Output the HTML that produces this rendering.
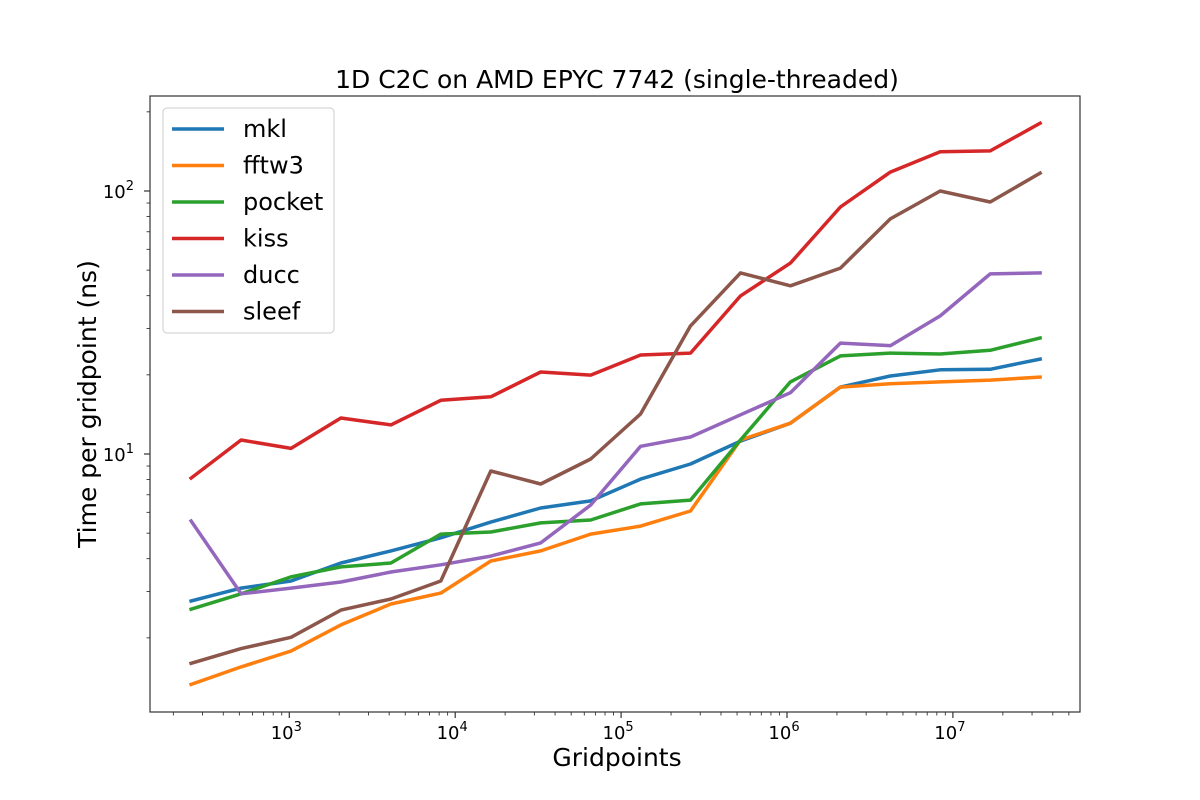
<!DOCTYPE html>
<html><head><meta charset="utf-8">
<style>
html,body{margin:0;padding:0;background:#fff;}
svg{display:block;font-family:"DejaVu Sans","Liberation Sans",sans-serif;}
</style></head>
<body>
<svg id="chart" width="1200" height="800" viewBox="0 0 1200 800" xmlns="http://www.w3.org/2000/svg">
<rect x="0" y="0" width="1200" height="800" fill="#fff"/>
<text x="617" y="88" font-size="25" text-anchor="middle">1D C2C on AMD EPYC 7742 (single-threaded)</text>
<text x="617" y="766" font-size="25" text-anchor="middle">Gridpoints</text>
<text x="0" y="0" font-size="25" text-anchor="middle" transform="translate(96,404) rotate(-90)">Time per gridpoint (ns)</text>
<g id="plot"></g>
<rect x="150" y="96" width="930" height="616" fill="none" stroke="#333" stroke-width="1.2"/>
<g id="legend"></g>
</svg>
<script>
const seriesNames = ["mkl","fftw3","pocket","kiss","ducc","sleef"];
const seriesColors = ["#1f77b4","#ff7f0e","#2ca02c","#d62728","#9467bd","#8c564b"];
const exponents = [8,9,10,11,12,13,14,15,16,17,18,19,20,21,22,23,24,25];
const mkl = [2.76,3.09,3.29,3.85,4.28,4.80,5.51,6.23,6.63,8.03,9.16,11.2,13.1,17.97,19.8,20.9,21.0,22.96];
const fftw3 = [1.33,1.55,1.78,2.24,2.69,2.96,3.92,4.28,4.96,5.32,6.07,11.3,13.1,17.97,18.5,18.8,19.1,19.6];
const pocket = [2.57,2.94,3.41,3.72,3.85,4.96,5.05,5.47,5.61,6.46,6.68,11.3,18.8,23.6,24.2,24.0,24.8,27.6];
const kiss = [8.1,11.3,10.5,13.7,12.9,16.0,16.5,20.5,19.96,23.8,24.2,39.9,53.2,86.9,118,141,142,181];
const ducc = [5.56,2.94,3.09,3.26,3.56,3.79,4.09,4.59,6.40,10.7,11.6,14.1,17.1,26.4,25.8,33.5,48.4,48.8];
const sleef = [1.60,1.82,2.01,2.55,2.81,3.29,8.62,7.69,9.57,14.2,30.7,48.8,43.6,50.9,78.3,100,90.8,117];
const xMajorExps = [3,4,5,6,7];
const yMajorExps = [1,2];

const NS="http://www.w3.org/2000/svg";
const plot=document.getElementById('plot');
const legend=document.getElementById('legend');
function X(v){return 289.3+(Math.log10(v)-3)*165.9;}
function Y(v){return 454-(Math.log10(v)-1)*263;}
function mk(tag,attrs,parent){const e=document.createElementNS(NS,tag);for(const k in attrs)e.setAttribute(k,attrs[k]);parent.appendChild(e);return e;}

for(let d=2;d<=7;d++){
  for(let m=1;m<10;m++){
    const v=m*Math.pow(10,d);const x=X(v);
    if(x<150||x>1080)continue;
    const t=mk('line',{x1:x,x2:x,y1:712,y2:712+(m===1?6:3.5),stroke:'#333','stroke-width':m===1?1.2:0.9},plot);
    
    
  }
}
xMajorExps.forEach(e=>{
  const t=mk('text',{x:X(Math.pow(10,e))-3,y:739,'font-size':18,'text-anchor':'middle'},plot);
  
  
  t.innerHTML='10<tspan dy="-8" font-size="13">'+e+'</tspan>';
});
for(let d=0;d<=2;d++){
  for(let m=1;m<10;m++){
    const v=m*Math.pow(10,d);const y=Y(v);
    if(y<96||y>712)continue;
    const t=mk('line',{x1:150,x2:150-(m===1?6:3.5),y1:y,y2:y,stroke:'#333','stroke-width':m===1?1.2:0.9},plot);
    
    
  }
}
yMajorExps.forEach(e=>{
  const t=mk('text',{x:134,y:Y(Math.pow(10,e))+7,'font-size':18,'text-anchor':'end'},plot);
  
  
  t.innerHTML='10<tspan dy="-8" font-size="13">'+e+'</tspan>';
});
const allData=[mkl,fftw3,pocket,kiss,ducc,sleef];
allData.forEach((arr,i)=>{
  const pts=arr.map((v,j)=>X(Math.pow(2,exponents[j])).toFixed(1)+','+Y(v).toFixed(1)).join(' ');
  const p=mk('polyline',{points:pts,fill:'none',stroke:seriesColors[i],'stroke-width':3.5,'stroke-linejoin':'round','stroke-linecap':'square'},plot);
  
  
});
const lb=mk('rect',{x:163,y:108,width:171,height:225,rx:4,fill:'#fff','fill-opacity':0.8,stroke:'#ccc','stroke-width':1},legend);


seriesNames.forEach((n,i)=>{
  const y=129+i*36.5;
  const g=mk('g',{},legend);
  
  
  mk('line',{x1:172,x2:224,y1:y,y2:y,stroke:seriesColors[i],'stroke-width':3.5},g);
  const t=mk('text',{x:243,y:y+8,'font-size':24},g);
  t.textContent=n;
});
</script>
</body></html>
